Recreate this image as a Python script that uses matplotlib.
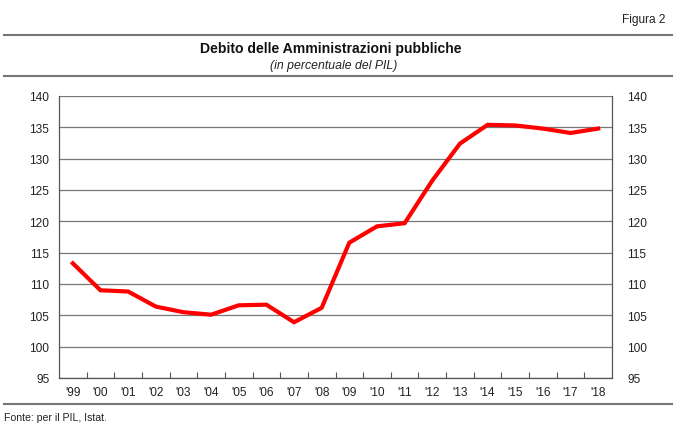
import matplotlib.pyplot as plt
from matplotlib.lines import Line2D

years = ["'99", "'00", "'01", "'02", "'03", "'04", "'05", "'06", "'07", "'08",
         "'09", "'10", "'11", "'12", "'13", "'14", "'15", "'16", "'17", "'18"]
debt = [113.3, 109.0, 108.8, 106.4, 105.5, 105.1, 106.6, 106.7, 103.9, 106.2,
        116.6, 119.2, 119.7, 126.5, 132.4, 135.4, 135.3, 134.8, 134.1, 134.8]
yticks = [95, 100, 105, 110, 115, 120, 125, 130, 135, 140]

plt.rcParams['font.family'] = ['Liberation Sans', 'DejaVu Sans']

W, H = 676, 427
fig = plt.figure(figsize=(W / 100, H / 100), dpi=100)

# axes box in pixels: x 59..612, y 97..379
ax = fig.add_axes([59 / W, 1 - 379 / H, (612 - 59) / W, (379 - 97) / H])
x = list(range(len(years)))
ax.plot(x, debt, color='#ff0000', lw=3.0, solid_joinstyle='miter', zorder=3)

ax.set_xlim(-0.5, len(years) - 0.5)
ax.set_ylim(95, 140)
ax.set_yticks(yticks)
ax.set_xticks(x)
ax.set_xticklabels(years)
ax.set_xticks([i + 0.5 for i in range(len(years) - 1)], minor=True)
ax.tick_params(axis='x', which='major', length=0, pad=6, labelsize=8.6, colors='#222222')
ax.tick_params(axis='x', which='minor', direction='in', length=4, width=0.8, color='#555555')
ax.tick_params(axis='y', length=0, pad=7, labelsize=8.6, colors='#222222')
ax.grid(axis='y', color='#777777', lw=0.9)
ax.set_axisbelow(True)
for s in ['left', 'right', 'bottom']:
    ax.spines[s].set_color('#555555')
    ax.spines[s].set_linewidth(0.9)
ax.spines['top'].set_visible(False)

# right-hand labels, left-aligned
ax2 = ax.secondary_yaxis('right')
ax2.set_yticks(yticks)
ax2.tick_params(length=0, pad=11, labelsize=8.6, colors='#222222')
ax2.spines['right'].set_visible(False)

# header / footer
fig.text(666 / W, 1 - 20 / H, 'Figura 2', ha='right', va='center', fontsize=8.6, color='#222222')
for yy in (36, 77, 405):
    fig.add_artist(Line2D([4 / W, 672 / W], [1 - yy / H] * 2, color='#777777', lw=1.5))
fig.text(331 / W, 1 - 49 / H, 'Debito delle Amministrazioni pubbliche',
         ha='center', va='center', fontsize=10.1, fontweight='bold', color='#111111')
fig.text(334 / W, 1 - 66 / H, '(in percentuale del PIL)',
         ha='center', va='center', fontsize=8.8, style='italic', color='#222222')
fig.text(4 / W, 1 - 418 / H, 'Fonte: per il PIL, Istat.', ha='left', va='center',
         fontsize=7.6, color='#222222')

fig.savefig('out.png', dpi=100)
